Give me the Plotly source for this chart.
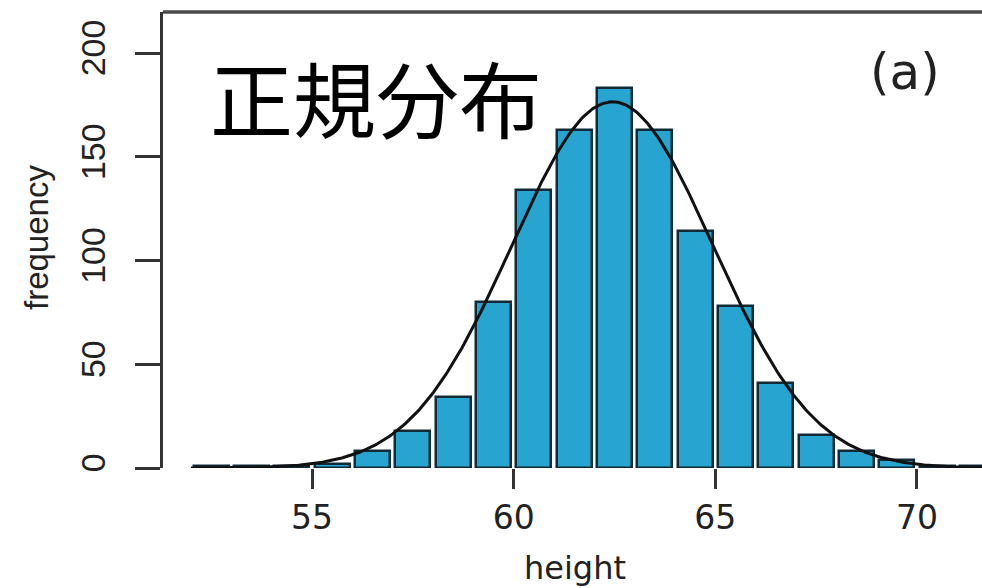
import numpy as np
import plotly.graph_objects as go

# Histogram of heights: left bin edges (1-unit bins) and counts
bin_left = [52, 53, 54, 55, 56, 57, 58, 59, 60, 61, 62, 63, 64, 65, 66, 67, 68, 69, 70, 71]
counts = [1, 1, 1, 2, 8, 18, 34, 80, 134, 163, 183, 163, 114, 78, 41, 16, 8, 4, 1, 1]

# Fitted normal curve parameters
fit_mean = 62.45
fit_sd = 2.5
fit_total = 1106
bin_width = 1.0

x_ticks = [55, 60, 65, 70]
y_ticks = [0, 50, 100, 150, 200]

centers = [b + bin_width / 2 for b in bin_left]

xs = np.linspace(52, 72, 400)
ys = fit_total * bin_width / (fit_sd * np.sqrt(2 * np.pi)) * np.exp(-(xs - fit_mean) ** 2 / (2 * fit_sd ** 2))

fig = go.Figure()
fig.add_trace(go.Bar(
    x=centers, y=counts, width=0.87,
    marker=dict(color="#27a4cf", line=dict(color="#112a36", width=2.5)),
    hoverinfo="skip",
))
fig.add_trace(go.Scatter(
    x=xs, y=ys, mode="lines",
    line=dict(color="#111111", width=3),
    hoverinfo="skip",
))

L, T, B = 163, 12, 120
W, H = 982, 588
plot_w = W - L
plot_h = H - T - B

def px_x(p):
    return (p - L) / plot_w

def px_y(p):
    return (H - B - p) / plot_h

sans = "Liberation Sans, Arial, sans-serif"
wide = "DejaVu Sans, sans-serif"

fig.update_layout(
    width=W, height=H,
    margin=dict(l=L, r=0, t=T, b=B),
    paper_bgcolor="white", plot_bgcolor="white",
    showlegend=False,
    bargap=0,
    xaxis=dict(
        range=[51.305, 71.613], tickvals=x_ticks, ticktext=[str(v) for v in x_ticks],
        ticks="outside", ticklen=20, tickwidth=3, tickcolor="#333333",
        showgrid=False, zeroline=False, showline=False,
        tickfont=dict(family=wide, size=33, color="#222222"),
    ),
    yaxis=dict(
        range=[0, 219.8], tickvals=y_ticks, ticktext=[str(v) for v in y_ticks],
        ticks="outside", ticklen=25, tickwidth=3, tickcolor="#333333",
        tickangle=-90, ticklabelstandoff=16,
        showgrid=False, zeroline=False,
        showline=True, linewidth=3, linecolor="#333333",
        tickfont=dict(family=sans, size=34, color="#222222"),
    ),
    shapes=[dict(type="line", xref="paper", yref="paper", x0=0, x1=1, y0=1, y1=1,
                 line=dict(color="#4a4a4a", width=3.5))],
    annotations=[
        dict(text="height", xref="paper", yref="paper", x=px_x(575), y=px_y(568),
             showarrow=False, xanchor="center", yanchor="middle",
             font=dict(family=wide, size=32, color="#222222")),
        dict(text="frequency", xref="paper", yref="paper", x=px_x(36), y=px_y(238),
             showarrow=False, xanchor="center", yanchor="middle", textangle=-90,
             font=dict(family=sans, size=33, color="#222222")),
        dict(text="(a)", xref="paper", yref="paper", x=px_x(905), y=px_y(72),
             showarrow=False, xanchor="center", yanchor="middle",
             font=dict(family=wide, size=50, color="#222222")),
        dict(text="正規分布", xref="paper", yref="paper", x=px_x(376), y=px_y(96),
             showarrow=False, xanchor="center", yanchor="middle",
             font=dict(family="Noto Sans CJK JP", size=83, color="#000000")),
    ],
)

fig.write_html("out.html")
